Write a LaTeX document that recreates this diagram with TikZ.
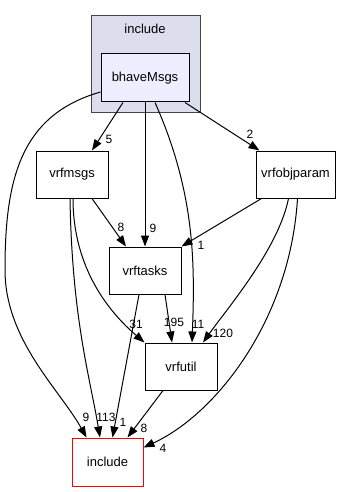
\documentclass[tikz,border=0pt]{standalone}
\usepackage{fontspec}
\setmainfont{Liberation Sans}
\usetikzlibrary{arrows.meta}
\definecolor{clusterfill}{HTML}{DDDDEE}
\definecolor{clusterline}{HTML}{444444}
\definecolor{dirfill}{HTML}{EEEEFF}
\definecolor{extline}{HTML}{FF0000}
\newcommand{\DirFont}{\fontsize{13}{15}\selectfont}
\newcommand{\NumFont}{\fontsize{12}{14}\selectfont}

\begin{document}
\begin{tikzpicture}[x=1pt,y=-1pt,
    dir/.style={draw=black,line width=1pt,minimum width=72pt,minimum height=47pt,inner sep=0pt,font=\DirFont},
    dep/.style={line width=1pt,-{Triangle[length=11pt,width=8pt]}},
    elabel/.style={font=\NumFont,inner sep=0pt}]
  \useasboundingbox (0,0) rectangle (352,492);
  % group of the parent directory
  \node[fill=clusterfill,draw=clusterline,line width=1pt,minimum width=109pt,minimum height=97pt] (grp) at (145.5,64.5) {};
  \node[font=\DirFont] (grptitle) at (145,29) {include};
  \node[dir,fill=dirfill,minimum width=88pt,minimum height=48pt] (bm) at (145,78) {bhaveMsgs};
  \node[dir] (msgs) at (72,174.5) {vrfmsgs};
  \node[dir,minimum width=79pt] (objp) at (295.5,174.5) {vrfobjparam};
  \node[dir] (tasks) at (145,270.5) {vrftasks};
  \node[dir] (util) at (181,366.5) {vrfutil};
  \node[dir,draw=extline,minimum width=71pt,minimum height=48pt] (inc) at (107.5,462) {include};
  % dependencies
  \draw[dep] ([xshift=-22pt]bm.south) -- ([xshift=20pt]msgs.north);
  \draw[dep] ([xshift=40pt]bm.south) -- ([xshift=-36pt]objp.north);
  \draw[dep] (bm.south) -- (tasks.north);
  \draw[dep] ([xshift=10pt]bm.south) .. controls +(40,90) and +(3,-80) .. ([xshift=11pt]util.north);
  \draw[dep] ([yshift=-14pt]bm.west) .. controls (20,115) and (5,180) .. (5,270)
    .. controls (5,340) and (60,390) .. ([xshift=-21pt]inc.north);
  \draw[dep] ([xshift=20pt]msgs.south) -- ([xshift=-19pt]tasks.north);
  \draw[dep] ([xshift=-2pt]msgs.south) .. controls +(2,120) and +(-10,-60) .. ([xshift=-7.5pt]inc.north);
  \draw[dep] ([xshift=1pt]msgs.south) .. controls +(0,70) and +(-35,-30) .. (util.north west);
  \draw[dep] ([xshift=-34pt]objp.south) -- (tasks.north east);
  \draw[dep] ([xshift=-7pt]objp.south) .. controls +(-10,50) and +(25,-35) .. ([xshift=22pt]util.north);
  \draw[dep] ([xshift=2pt]objp.south) .. controls +(-7.5,122) and +(72,-33) .. ([yshift=-10pt]inc.north east);
  \draw[dep] ([xshift=20pt]tasks.south) -- ([xshift=-9pt]util.north);
  \draw[dep] ([xshift=-6pt]tasks.south) -- ([xshift=5pt]inc.north);
  \draw[dep] ([xshift=-18pt]util.south) -- ([xshift=20pt]inc.north);
  % counts
  \foreach \x/\y/\t [count=\i] in {109/139/5,250/134/2,153/228/9,121/227/8,201/245/1,198/324/11,136/324/31,174/322/195,223/333/120,86/417/9,106/417/113,123/422/1,144/428/8,163/448/4}
    \node[elabel] (lab\i) at (\x,\y) {\t};
\end{tikzpicture}
\end{document}
